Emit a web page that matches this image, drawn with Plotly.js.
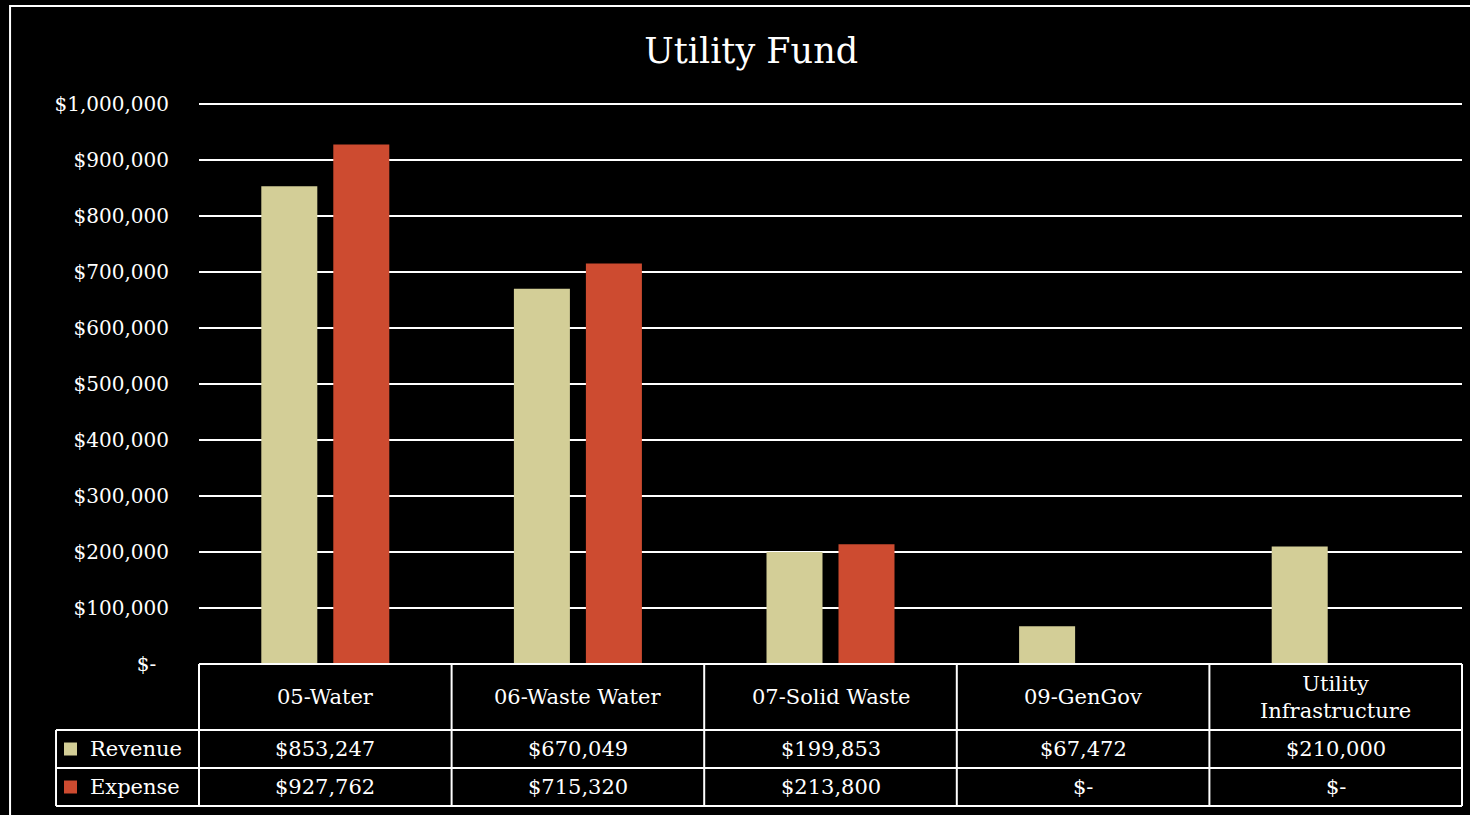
<!DOCTYPE html>
<html>
<head>
<meta charset="utf-8">
<script src="https://cdn.plot.ly/plotly-3.0.1.min.js"></script>
<style>html,body{margin:0;padding:0;background:#000;overflow:hidden}#chart{width:1470px;height:815px}</style>
</head>
<body>
<div id="chart"></div>
<script>
const categories = ["05-Water", "06-Waste Water", "07-Solid Waste", "09-GenGov", "Utility<br>Infrastructure"];
const revenue = [853247, 670049, 199853, 67472, 210000];
const expense = [927762, 715320, 213800, 0, 0];
const seriesNames = ["Revenue", "Expense"];
const tickValues = [0, 100000, 200000, 300000, 400000, 500000, 600000, 700000, 800000, 900000, 1000000];

const colors = ["#D3CE97", "#CD4B30"];
const FONT = "DejaVu Serif";

function money(v) {
  return v === 0 ? "$-" : "$" + v.toLocaleString("en-US");
}
function tickMoney(v) {
  return v === 0 ? "$-\u00a0\u00a0" : money(v);
}

const xIdx = categories.map((_, i) => i);

const traces = [
  {type: "bar", name: seriesNames[0], x: xIdx, y: revenue, marker: {color: colors[0]}, hoverinfo: "y"},
  {type: "bar", name: seriesNames[1], x: xIdx, y: expense, marker: {color: colors[1]}, hoverinfo: "y"}
];

// table geometry (paper coords)
const rowY = [0, -0.1179, -0.1857, -0.2536];
const colW = 1 / categories.length;
const leftX = -0.1132;
const shapes = [];
const annotations = [];
const lineStyle = {color: "#ffffff", width: 2};

// outer border
shapes.push({type: "rect", xref: "paper", yref: "paper", x0: -0.1496, x1: 1.02, y0: -0.35, y1: 1.175, line: lineStyle, layer: "above"});

// top gridline (at the upper edge of the value range)
shapes.push({type: "line", xref: "paper", yref: "paper", x0: 0, x1: 1, y0: 1, y1: 1, line: lineStyle});

// horizontal table lines
shapes.push({type: "line", xref: "paper", yref: "paper", x0: 0, x1: 1, y0: rowY[0], y1: rowY[0], line: lineStyle});
for (let r = 1; r < rowY.length; r++) {
  shapes.push({type: "line", xref: "paper", yref: "paper", x0: leftX, x1: 1, y0: rowY[r], y1: rowY[r], line: lineStyle});
}
// vertical table lines
shapes.push({type: "line", xref: "paper", yref: "paper", x0: leftX, x1: leftX, y0: rowY[1], y1: rowY[3], line: lineStyle});
for (let i = 0; i <= categories.length; i++) {
  shapes.push({type: "line", xref: "paper", yref: "paper", x0: i * colW, x1: i * colW, y0: rowY[0], y1: rowY[3], line: lineStyle});
}

const textFont = {family: FONT, size: 21, color: "#ffffff"};
// header row
categories.forEach((c, i) => {
  annotations.push({xref: "paper", yref: "paper", x: (i + 0.5) * colW, y: (rowY[0] + rowY[1]) / 2, text: c, showarrow: false, font: textFont, xanchor: "center", yanchor: "middle"});
});
// data rows
[revenue, expense].forEach((series, s) => {
  const yMid = (rowY[s + 1] + rowY[s + 2]) / 2;
  series.forEach((v, i) => {
    annotations.push({xref: "paper", yref: "paper", x: (i + 0.5) * colW, y: yMid, text: money(v), showarrow: false, font: textFont, xanchor: "center", yanchor: "middle"});
  });
  // legend key
  shapes.push({type: "rect", xref: "paper", yref: "paper", x0: leftX + 0.0063, x1: leftX + 0.0166, y0: yMid - 0.0116, y1: yMid + 0.0116, fillcolor: colors[s], line: {width: 0}});
  annotations.push({xref: "paper", yref: "paper", x: leftX + 0.025, y: yMid, text: seriesNames[s], showarrow: false, font: textFont, xanchor: "left", yanchor: "middle"});
});

const layout = {
  width: 1470,
  height: 815,
  paper_bgcolor: "#000000",
  plot_bgcolor: "#000000",
  margin: {l: 199, r: 8, t: 104, b: 151, pad: 0},
  title: {text: "Utility Fund", font: {family: FONT, size: 35, color: "#ffffff"}, x: 0.511, xanchor: "center", y: 0.938, yanchor: "middle"},
  showlegend: false,
  barmode: "group",
  bargap: 0.43,
  bargroupgap: 0.222,
  xaxis: {range: [-0.5, categories.length - 0.5], showticklabels: false, showgrid: false, zeroline: false, showline: false, ticks: "", fixedrange: true},
  yaxis: {
    range: [0, 1000000],
    tickvals: tickValues,
    ticktext: tickValues.map(tickMoney),
    tickfont: {family: FONT, size: 20, color: "#ffffff"},
    ticks: "outside", ticklen: 25, tickcolor: "rgba(0,0,0,0)",
    showgrid: true, gridcolor: "#ffffff", gridwidth: 2,
    zeroline: false, showline: false, fixedrange: true
  },
  shapes: shapes,
  annotations: annotations
};

Plotly.newPlot("chart", traces, layout, {displayModeBar: false, responsive: false});
</script>
</body>
</html>
